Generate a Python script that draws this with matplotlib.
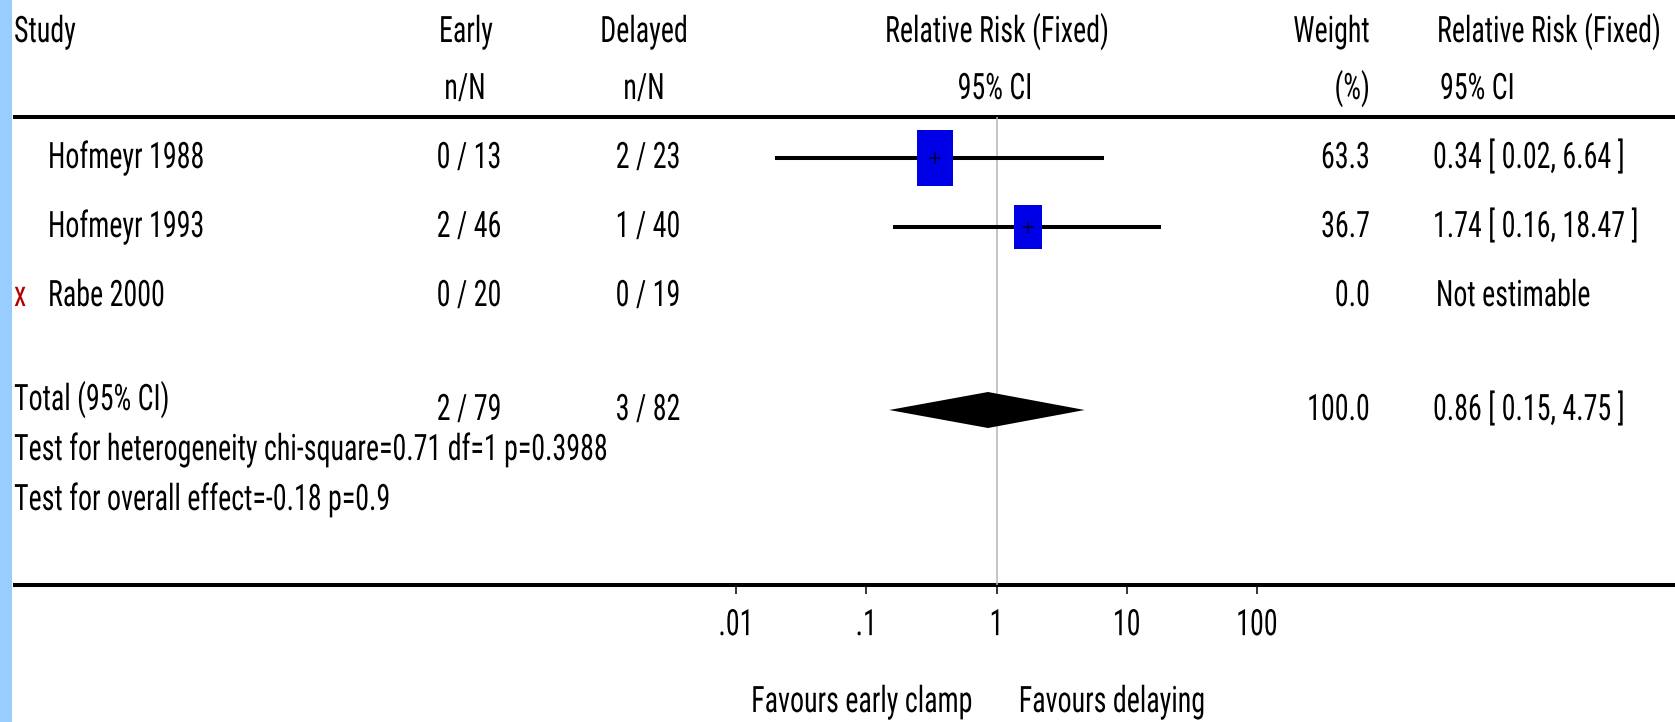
import os
import matplotlib
matplotlib.use("Agg")
import numpy as np
import matplotlib.pyplot as plt
from matplotlib import font_manager as fm
from matplotlib.font_manager import FontProperties
from matplotlib.path import Path
from matplotlib.patheffects import AbstractPathEffect
from matplotlib.transforms import Affine2D
from matplotlib.ticker import NullLocator

# ---- data ---------------------------------------------------------------
studies = ["Hofmeyr 1988", "Hofmeyr 1993", "Rabe 2000"]
excluded = [False, False, True]
early = ["0 / 13", "2 / 46", "0 / 20"]
delayed = ["2 / 23", "1 / 40", "0 / 19"]
rr = [0.34, 1.74, np.nan]
rr_low = [0.02, 0.16, np.nan]
rr_high = [6.64, 18.47, np.nan]
weights = [63.3, 36.7, 0.0]

total_early = "2 / 79"
total_delayed = "3 / 82"
total_rr = 0.86
total_low = 0.15
total_high = 4.75
total_weight = 100.0

heterogeneity = "Test for heterogeneity chi-square=0.71 df=1 p=0.3988"
overall_effect = "Test for overall effect=-0.18 p=0.9"
tick_values = [0.01, 0.1, 1, 10, 100]
tick_labels = [".01", ".1", "1", "10", "100"]
favours_left = "Favours early clamp"
favours_right = "Favours delaying"

# ---- layout (pixels, measured from the top-left corner) -------------------
W, H, DPI = 1675, 722, 100
row_y = [158, 227, 296]
total_y = 410
top_rule_y, bottom_rule_y = 117, 585
plot_x0, plot_x1 = 736, 1257
weight_right = 1370
ci_left = 1433
GLYPH_STRETCH = 1.3   # tall, narrow lettering


# ---- font: the narrowest regular sans that is installed ---------------------
def pick_font():
    files = {os.path.basename(f.fname): f.fname for f in fm.fontManager.ttflist}
    wanted = [
        "NotoSans-ExtraCondensed.ttf", "NotoSans-ExtraCondensed-Regular.ttf",
        "LiberationSansNarrow-Regular.ttf", "RobotoCondensed-Regular.ttf",
        "NotoSans-Condensed.ttf", "DejaVuSansCondensed.ttf",
    ]
    for name in wanted:
        if name in files:
            return FontProperties(fname=files[name])
    names = {f.name for f in fm.fontManager.ttflist}
    if "Roboto Condensed" in names:
        return FontProperties(family="Roboto Condensed")
    return FontProperties(family="Liberation Sans")


class TallGlyphs(AbstractPathEffect):
    """Stretch glyph outlines vertically about their baseline."""

    def __init__(self, sy):
        super().__init__()
        self._sy = sy

    def draw_path(self, renderer, gc, tpath, affine, rgbFace=None):
        renderer.draw_path(gc, tpath, Affine2D().scale(1.0, self._sy) + affine, rgbFace)


fp = pick_font()
tall = [TallGlyphs(GLYPH_STRETCH)]

fig = plt.figure(figsize=(W / DPI, H / DPI), dpi=DPI)
fig.patch.set_facecolor("white")

bg = fig.add_axes([0, 0, 1, 1])
bg.set_xlim(0, W)
bg.set_ylim(H, 0)
bg.axis("off")

# size the text so that a study label spans its measured width
probe = bg.text(0, 0, "Hofmeyr 1988", fontproperties=fp, fontsize=20)
renderer = fig.canvas.get_renderer()
fs = 20 * 156 / probe.get_window_extent(renderer).width
probe.remove()


def txt(x, y, s, ha="left", color="black"):
    bg.text(x, y, s, ha=ha, va="baseline", fontproperties=fp, fontsize=fs,
            color=color, path_effects=tall)


# left blue band
bg.add_patch(plt.Rectangle((0, 0), 12, H, color="#99ccff", lw=0))

# horizontal rules
bg.plot([13, W], [top_rule_y, top_rule_y], color="black", lw=2.9, solid_capstyle="butt")
bg.plot([13, W], [bottom_rule_y, bottom_rule_y], color="black", lw=2.9, solid_capstyle="butt")

# column headers
txt(14, 42, "Study")
txt(466, 42, "Early", ha="center")
txt(644, 42, "Delayed", ha="center")
txt(997, 42, "Relative Risk (Fixed)", ha="center")
txt(weight_right, 42, "Weight", ha="right")
txt(1437, 42, "Relative Risk (Fixed)")
txt(465, 99, "n/N", ha="center")
txt(644, 99, "n/N", ha="center")
txt(995, 99, "95% CI", ha="center")
txt(weight_right, 99, "(%)", ha="right")
txt(1440, 99, "95% CI")

# study rows
for i, name in enumerate(studies):
    base = row_y[i] + 10
    if excluded[i]:
        txt(14, base, "x", color="#b00000")
    txt(48, base, name)
    txt(469, base, early[i], ha="center")
    txt(648, base, delayed[i], ha="center")
    txt(weight_right, base, f"{weights[i]:.1f}", ha="right")
    if np.isnan(rr[i]):
        txt(ci_left + 3, base, "Not estimable")
    else:
        txt(ci_left, base, f"{rr[i]:.2f} [ {rr_low[i]:.2f}, {rr_high[i]:.2f} ]")

# pooled row and tests
txt(14, 410, "Total (95% CI)")
txt(469, 420, total_early, ha="center")
txt(648, 420, total_delayed, ha="center")
txt(weight_right, 420, f"{total_weight:.1f}", ha="right")
txt(ci_left, 420, f"{total_rr:.2f} [ {total_low:.2f}, {total_high:.2f} ]")
txt(14, 460, heterogeneity)
txt(14, 510, overall_effect)

txt(862, 712, favours_left, ha="center")
txt(1112, 712, favours_right, ha="center")

# ---- forest plot on a log axis --------------------------------------------
ax = fig.add_axes([plot_x0 / W, (H - bottom_rule_y) / H,
                   (plot_x1 - plot_x0) / W, (bottom_rule_y - top_rule_y) / H])
ax.set_xscale("log")
ax.set_xlim(tick_values[0], tick_values[-1])
ax.set_ylim(bottom_rule_y, top_rule_y)
ax.patch.set_visible(False)
for sp in ax.spines.values():
    sp.set_visible(False)
ax.set_yticks([])
ax.set_xticks(tick_values)
ax.set_xticklabels(tick_labels, fontproperties=fp, fontsize=fs, path_effects=tall)
ax.xaxis.set_minor_locator(NullLocator())
ax.tick_params(axis="x", direction="out", length=6.5, width=1.1, pad=14.5, colors="black")

ax.axvline(1, color="#b4b4b4", lw=1.1, zorder=1)

rect = Path([(-0.63, -1), (0.63, -1), (0.63, 1), (-0.63, 1), (-0.63, -1)],
            [Path.MOVETO, Path.LINETO, Path.LINETO, Path.LINETO, Path.CLOSEPOLY])

for i in range(len(studies)):
    if np.isnan(rr[i]):
        continue
    ax.hlines(row_y[i], rr_low[i], rr_high[i], color="black", lw=2.9, zorder=2)
    ax.scatter([rr[i]], [row_y[i]], s=26.2 * weights[i], marker=rect,
               color="#0000e6", linewidths=0, zorder=3)
    ax.plot([rr[i]], [row_y[i]], marker="+", color="#00005a", ms=9, mew=1.4, zorder=4)

ax.fill([total_low, total_rr, total_high, total_rr],
        [total_y, total_y - 18, total_y, total_y + 18],
        color="black", lw=0, zorder=3)

fig.savefig("out.png", dpi=DPI, facecolor="white")
